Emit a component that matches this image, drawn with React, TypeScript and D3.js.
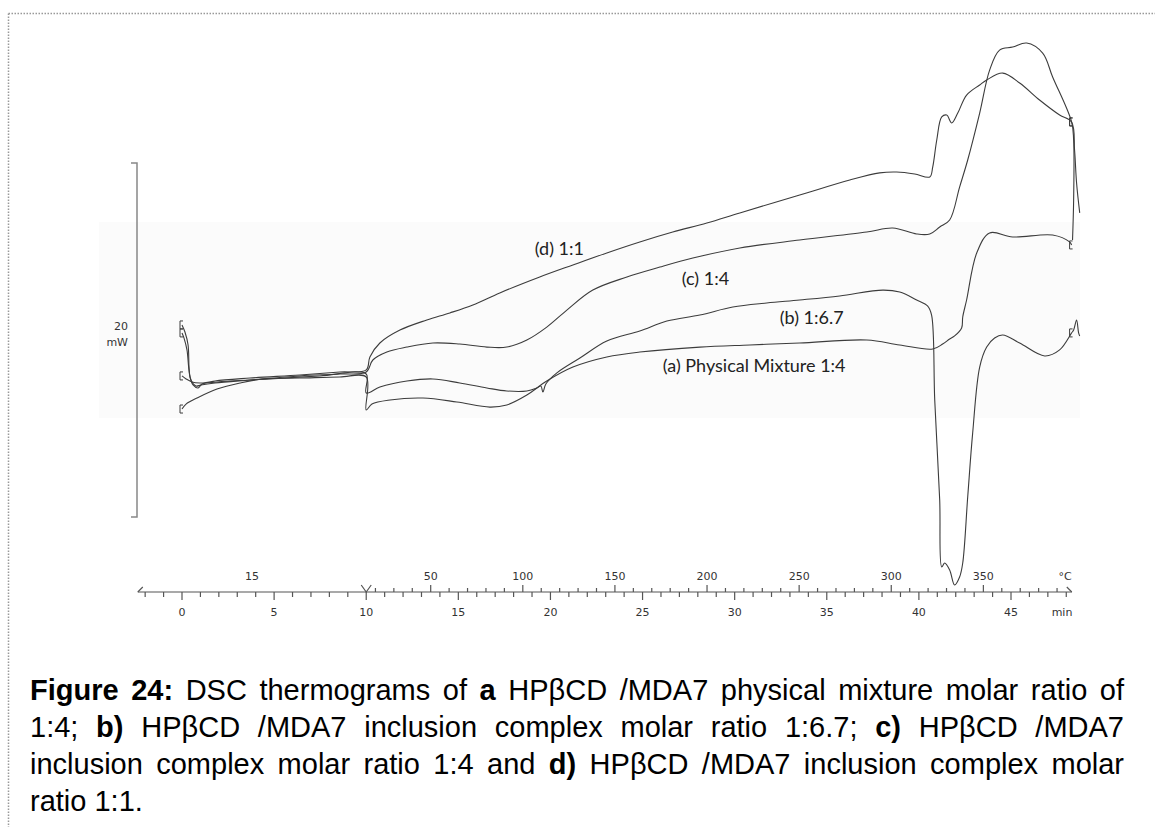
import React, { useMemo } from 'react';
import * as d3 from 'd3';

type Pt = [number, number]; // [time (min), heat flow (mW)]

// DSC traces
const curveA: Pt[] = [
  [0, 6.10], [0.22, 6.38], [0.81, 6.72], [1.90, 7.23], [3.15, 7.57], [4.40, 7.80], [6.40, 7.85], [8.57, 7.91],
  [10.0, 7.91], [10.0, 6.05], [10.31, 6.38], [11.29, 6.61], [13.08, 6.72], [14.92, 6.50], [16.71, 6.21],
  [17.63, 6.33], [18.72, 6.89], [19.80, 7.68], [21.22, 8.47], [23.06, 9.04], [24.85, 9.32], [28.11, 9.60],
  [30.82, 9.72], [33.53, 9.83], [37.17, 10.00], [38.96, 9.72], [40.75, 9.49], [41.29, 9.77], [41.67, 10.06],
  [41.94, 10.23], [42.32, 10.68], [42.38, 11.30], [42.59, 12.26], [43.14, 14.92], [43.84, 16.05],
  [45.09, 15.82], [47.26, 15.93], [48.18, 15.54], [48.29, 15.37],
];

const curveB: Pt[] = [
  [0, 7.97], [0.22, 7.80], [0.54, 7.63], [0.98, 7.57], [2.60, 7.68], [4.77, 7.80], [7.49, 7.97], [10.0, 8.08],
  [10.0, 7.01], [10.74, 7.34], [12.21, 7.68], [13.62, 7.80], [15.08, 7.57], [16.55, 7.29], [17.63, 7.12],
  [18.72, 7.12], [19.26, 7.29], [19.48, 7.40], [19.59, 7.06], [19.75, 7.51], [20.35, 8.14], [21.60, 8.98],
  [23.06, 9.94], [24.85, 10.51], [26.32, 11.07], [28.11, 11.41], [29.90, 11.86], [31.74, 12.09],
  [33.53, 12.26], [35.70, 12.49], [38.04, 12.82], [38.96, 12.71], [39.88, 12.26], [40.48, 11.92],
  [40.69, 11.41], [40.86, 6.61], [41.13, 0.96], [41.24, -2.82], [41.40, -2.60], [41.67, -2.99],
  [41.94, -3.84], [42.21, -3.39], [42.38, -2.60], [42.65, 1.13], [42.92, 4.75], [43.30, 8.47],
  [43.68, 9.60], [44.11, 10.11], [44.55, 10.28], [45.47, 9.83], [46.83, 9.10], [47.64, 9.44],
  [48.29, 10.40], [48.40, 10.56], [48.56, 11.13], [48.67, 10.40], [48.73, 10.23],
];

const curveC: Pt[] = [
  [0, 10.40], [0.11, 10.11], [0.27, 9.44], [0.38, 8.31], [0.49, 7.74], [0.76, 7.40], [1.03, 7.46],
  [1.79, 7.57], [3.69, 7.74], [6.40, 7.97], [8.57, 8.08], [10.0, 8.19], [10.36, 8.87], [11.12, 9.32],
  [12.21, 9.60], [13.62, 9.83], [15.08, 9.77], [16.55, 9.60], [17.63, 9.60], [18.72, 10.00], [19.80, 10.73],
  [20.89, 11.69], [22.30, 12.82], [24.15, 13.56], [25.94, 14.12], [27.73, 14.63], [30.28, 15.20],
  [33.53, 15.65], [37.17, 16.10], [38.58, 16.33], [39.88, 15.99], [40.59, 15.99], [41.13, 16.38],
  [41.67, 16.78], [42.21, 18.64], [42.65, 20.17], [43.30, 22.82], [43.84, 25.25], [44.38, 26.38],
  [45.09, 26.55], [45.85, 26.78], [46.72, 26.21], [47.26, 24.86], [48.29, 22.32], [48.40, 21.30],
  [48.40, 17.91], [48.34, 15.65],
];

const curveD: Pt[] = [
  [0, 10.85], [0.16, 10.45], [0.33, 9.72], [0.38, 8.47], [0.43, 7.91], [0.60, 7.46], [0.87, 7.29],
  [1.09, 7.51], [1.79, 7.68], [3.69, 7.85], [6.40, 8.02], [8.57, 8.19], [10.0, 8.31], [10.20, 9.04],
  [10.74, 9.83], [11.83, 10.56], [13.29, 11.13], [14.54, 11.53], [15.79, 11.98], [17.25, 12.66],
  [19.42, 13.56], [21.22, 14.24], [23.06, 14.92], [24.85, 15.54], [26.64, 16.10], [28.49, 16.61],
  [30.28, 17.18], [33.53, 18.19], [36.25, 19.04], [37.87, 19.44], [38.79, 19.49], [39.77, 19.38],
  [40.59, 19.21], [40.75, 19.77], [40.97, 21.30], [41.24, 22.60], [41.51, 22.71], [41.78, 22.26],
  [42.11, 22.82], [42.59, 23.84], [43.30, 24.41], [43.68, 24.69], [44.55, 25.08], [45.47, 24.52],
  [46.55, 23.56], [47.64, 22.71], [48.29, 22.32], [48.45, 20.73], [48.56, 18.87], [48.73, 17.18],
];

const curves = [curveA, curveB, curveC, curveD];
const seriesLabels = ['(a) Physical Mixture 1:4', '(b) 1:6.7', '(c) 1:4', '(d) 1:1'];
// label anchors, [time, mW]
const labelAnchors: Pt[] = [[26.10, 8.19], [32.45, 10.90], [27.13, 13.11], [19.15, 14.80]];

const timeTicks = [0, 5, 10, 15, 20, 25, 30, 35, 40, 45];
const tempLabels = [50, 100, 150, 200, 250, 300, 350];
const isoTemp = 15; // isothermal segment, 0-10 min
const isoEnd = 10;
const heatRate = 10; // °C per min
const scaleBarMW = 20;

const captionLines: [string, boolean][][] = [
  [['Figure', true], ['24:', true], ['DSC', false], ['thermograms', false], ['of', false], ['a', true],
    ['HPβCD', false], ['/MDA7', false], ['physical', false], ['mixture', false], ['molar', false],
    ['ratio', false], ['of', false]],
  [['1:4;', false], ['b)', true], ['HPβCD', false], ['/MDA7', false], ['inclusion', false], ['complex', false],
    ['molar', false], ['ratio', false], ['1:6.7;', false], ['c)', true], ['HPβCD', false], ['/MDA7', false]],
  [['inclusion', false], ['complex', false], ['molar', false], ['ratio', false], ['1:4', false], ['and', false],
    ['d)', true], ['HPβCD', false], ['/MDA7', false], ['inclusion', false], ['complex', false], ['molar', false]],
  [['ratio', false], ['1:1.', false]],
];

const W = 1155;
const H = 827;
const axisY = 592;
const capFont = "'Liberation Sans', Arial, sans-serif";
const capSize = 29;

const App: React.FC = () => {
  const x = d3.scaleLinear().domain([0, 45]).range([182, 1011]);
  const y = d3.scaleLinear().domain([0, scaleBarMW]).range([517, 163]);
  const tOfTemp = (T: number) => isoEnd + (T - isoTemp) / heatRate;

  const line = d3.line<Pt>()
    .x(d => x(d[0]))
    .y(d => y(d[1]))
    .curve(d3.curveCatmullRom.alpha(0.5));

  const axisStart = -2.4;
  const axisEnd = 48.3;
  const minorTime = d3.range(-2, 49, 1);
  const minorTemp = d3.range(20, 400, 10).filter(T => tOfTemp(T) < axisEnd);

  const caption = useMemo(() => {
    const ctx = document.createElement('canvas').getContext('2d')!;
    const measure = (s: string, b: boolean) => {
      ctx.font = `${b ? 'bold ' : ''}${capSize}px ${capFont}`;
      return ctx.measureText(s).width;
    };
    const left = 30;
    const right = 1124;
    return captionLines.map((words, li) => {
      const widths = words.map(([s, b]) => measure(s, b));
      const total = d3.sum(widths);
      const last = li === captionLines.length - 1;
      const gap = last ? measure(' ', false) : (right - left - total) / (words.length - 1);
      let cx = left;
      return words.map(([s, b], i) => {
        const item = { s, b, x: cx };
        cx += widths[i] + gap;
        return item;
      });
    });
  }, []);

  const stroke = '#3c3c3c';

  return (
    <svg width={W} height={H} style={{ position: 'absolute', left: 0, top: 0, background: '#fff' }}>
      {/* dotted frame */}
      <line x1={8.5} y1={13.5} x2={W} y2={13.5} stroke="#999" strokeWidth={1.5} strokeDasharray="1.5 1.5" />
      <line x1={8.5} y1={13.5} x2={8.5} y2={H} stroke="#999" strokeWidth={1.5} strokeDasharray="1.5 1.5" />

      {/* plot background */}
      <rect x={99} y={222} width={981} height={196} fill="#fbfbfb" />

      {/* scale bar */}
      <path d={`M131,${y(scaleBarMW)} H137 V${y(0)} H131`} fill="none" stroke="#888" strokeWidth={1.5} />
      <text x={128} y={330} textAnchor="end" fontFamily="'DejaVu Sans', sans-serif" fontSize={11} fill="#333">20</text>
      <text x={128} y={346} textAnchor="end" fontFamily="'DejaVu Sans', sans-serif" fontSize={11} fill="#333">mW</text>

      {/* curves */}
      {curves.map((c, i) => (
        <path key={i} d={line(c) || ''} fill="none" stroke={stroke} strokeWidth={1.1} strokeLinejoin="round" />
      ))}
      {/* segment markers */}
      {curves.map((c, i) => {
        const pts = [c[0], ...c.filter(p => p[0] === 48.29)];
        return pts.map((p, j) => (
          <path key={`${i}-${j}`} d={`M${x(p[0]) + 1},${y(p[1]) - 4} h-3 v8 h3`} fill="none" stroke={stroke} strokeWidth={1} />
        ));
      })}

      {/* series labels */}
      {seriesLabels.map((s, i) => (
        <text key={s} x={x(labelAnchors[i][0])} y={y(labelAnchors[i][1])} fontFamily="Lato, 'Open Sans', sans-serif"
          fontSize={18} fill="#222">{s}</text>
      ))}

      {/* time / temperature axis */}
      <g stroke="#555" strokeWidth={1.2} fill="none">
        <line x1={x(axisStart)} y1={axisY} x2={x(axisEnd)} y2={axisY} />
        <path d={`M${x(axisStart)},${axisY} l5,-5`} />
        <path d={`M${x(axisEnd)},${axisY} l-5,-5`} />
        <path d={`M${x(isoEnd) - 5},${axisY - 7} L${x(isoEnd)},${axisY} L${x(isoEnd) + 5},${axisY - 7}`} />
        {minorTime.map(t => (
          <line key={`mt${t}`} x1={x(t)} y1={axisY} x2={x(t)} y2={axisY + (t % 5 === 0 ? 8 : 5)} />
        ))}
        {minorTemp.map(T => (
          <line key={`tt${T}`} x1={x(tOfTemp(T))} y1={axisY} x2={x(tOfTemp(T))} y2={axisY - (T % 50 === 0 ? 7 : 4)} />
        ))}
      </g>
      <g fontFamily="'DejaVu Sans', sans-serif" fontSize={11} fill="#333" textAnchor="middle">
        {timeTicks.map(t => (
          <text key={`tl${t}`} x={x(t)} y={axisY + 24}>{t}</text>
        ))}
        <text x={x(45) + 51} y={axisY + 24}>min</text>
        {tempLabels.map(T => (
          <text key={`Tl${T}`} x={x(tOfTemp(T))} y={axisY - 12}>{T}</text>
        ))}
        <text x={(x(axisStart) + x(isoEnd)) / 2} y={axisY - 12}>{isoTemp}</text>
        <text x={x(45) + 54} y={axisY - 12}>°C</text>
      </g>

      {/* caption */}
      {caption.map((words, li) => (
        <text key={li} y={700 + li * 37} fontFamily={capFont} fontSize={capSize} fill="#000">
          {words.map((w, i) => (
            <tspan key={i} x={w.x} fontWeight={w.b ? 'bold' : 'normal'}>{w.s}</tspan>
          ))}
        </text>
      ))}
    </svg>
  );
};

export default App;
